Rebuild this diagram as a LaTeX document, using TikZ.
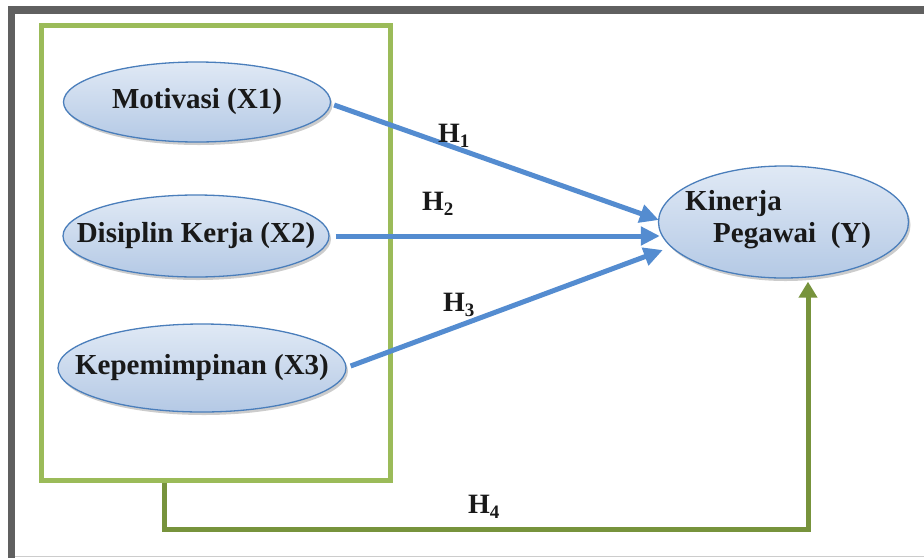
\documentclass[tikz,border=0pt]{standalone}
\usepackage{fontspec}
\setmainfont{Liberation Serif}
\usetikzlibrary{arrows.meta,shapes.geometric,shadows,calc}
\definecolor{framegray}{RGB}{96,96,96}
\definecolor{boxgreen}{RGB}{155,187,89}
\definecolor{darkgreen}{RGB}{119,147,60}
\definecolor{arrowblue}{RGB}{84,140,208}
\definecolor{ellborder}{RGB}{74,126,187}
\definecolor{elltop}{RGB}{224,233,245}
\definecolor{ellbot}{RGB}{180,201,229}
\begin{document}
\begin{tikzpicture}[x=1pt,y=-1pt,
 var/.style={ellipse, draw=ellborder, line width=1.3pt, top color=elltop, bottom color=ellbot, inner sep=0pt,
   font=\fontsize{29}{34}\selectfont\bfseries, text=black!90,
   drop shadow={shadow xshift=2pt,shadow yshift=-3pt,opacity=0.2,fill=black}},
 hyp/.style={draw=arrowblue, line width=5pt, -{Triangle[length=19pt,width=18pt]}},
 hfour/.style={draw=darkgreen, line width=5pt, -{Triangle[length=16pt,width=18pt]}},
 hlab/.style={inner sep=0pt, anchor=base west, font=\fontsize{28}{30}\selectfont\bfseries, text=black!90},
 ktext/.style={inner sep=0pt, anchor=base west, font=\fontsize{29}{34}\selectfont\bfseries, text=black!90}
]
\useasboundingbox (0,0) rectangle (924,558);
\fill[white] (0,0) rectangle (924,558);
% outer frame
\fill[framegray] (8,6) rectangle (15,558);
\fill[framegray] (8,6) rectangle (924,14);
\draw[gray!40, line width=1pt] (15,556.5) -- (924,556.5);
% green group box
\node[draw=boxgreen, line width=5pt, minimum width=349pt, minimum height=455pt, inner sep=0pt] (grp) at (215.5,252.5) {};
% variables
\node[var, minimum width=267pt, minimum height=80pt] (mot) at (197,102) {\makebox[0pt]{Motivasi (X1)}};
\node[var, minimum width=266pt, minimum height=82pt] (dis) at (196,236) {\makebox[0pt]{Disiplin Kerja (X2)}};
\node[var, minimum width=288pt, minimum height=88pt] (kep) at (202,368) {\makebox[0pt]{Kepemimpinan (X3)}};
\node[var, minimum width=250pt, minimum height=112pt] (kin) at (783.5,222) {};
\node[ktext] (kt1) at (685,210) {Kinerja};
\node[ktext] (kt2) at (713,242) {Pegawai\ \ (Y)};
% H4 connector
\draw[hfour] ($(grp.south west)+(126,0)$) -- ++(0,47) -| ($(kin.south)+(24.5,3)$);
% hypotheses arrows
\draw[hyp] ($(mot.east)+(3,3)$) -- ($(kin.west)+(1,-2)$);
\draw[hyp] ($(dis.east)+(6,0)$) -- ($(kin.west)+(2,14)$);
\draw[hyp] ($(kep.east)+(4,-2)$) -- ($(kin.west)+(5,28)$);
% labels
\node[hlab] (h1) at (438,142) {H\raisebox{-5pt}{\fontsize{19}{19}\selectfont 1}};
\node[hlab] (h2) at (422,210) {H\raisebox{-5pt}{\fontsize{19}{19}\selectfont 2}};
\node[hlab] (h3) at (443,311) {H\raisebox{-5pt}{\fontsize{19}{19}\selectfont 3}};
\node[hlab] (h4) at (468,513) {H\raisebox{-5pt}{\fontsize{19}{19}\selectfont 4}};
\end{tikzpicture}
\end{document}
